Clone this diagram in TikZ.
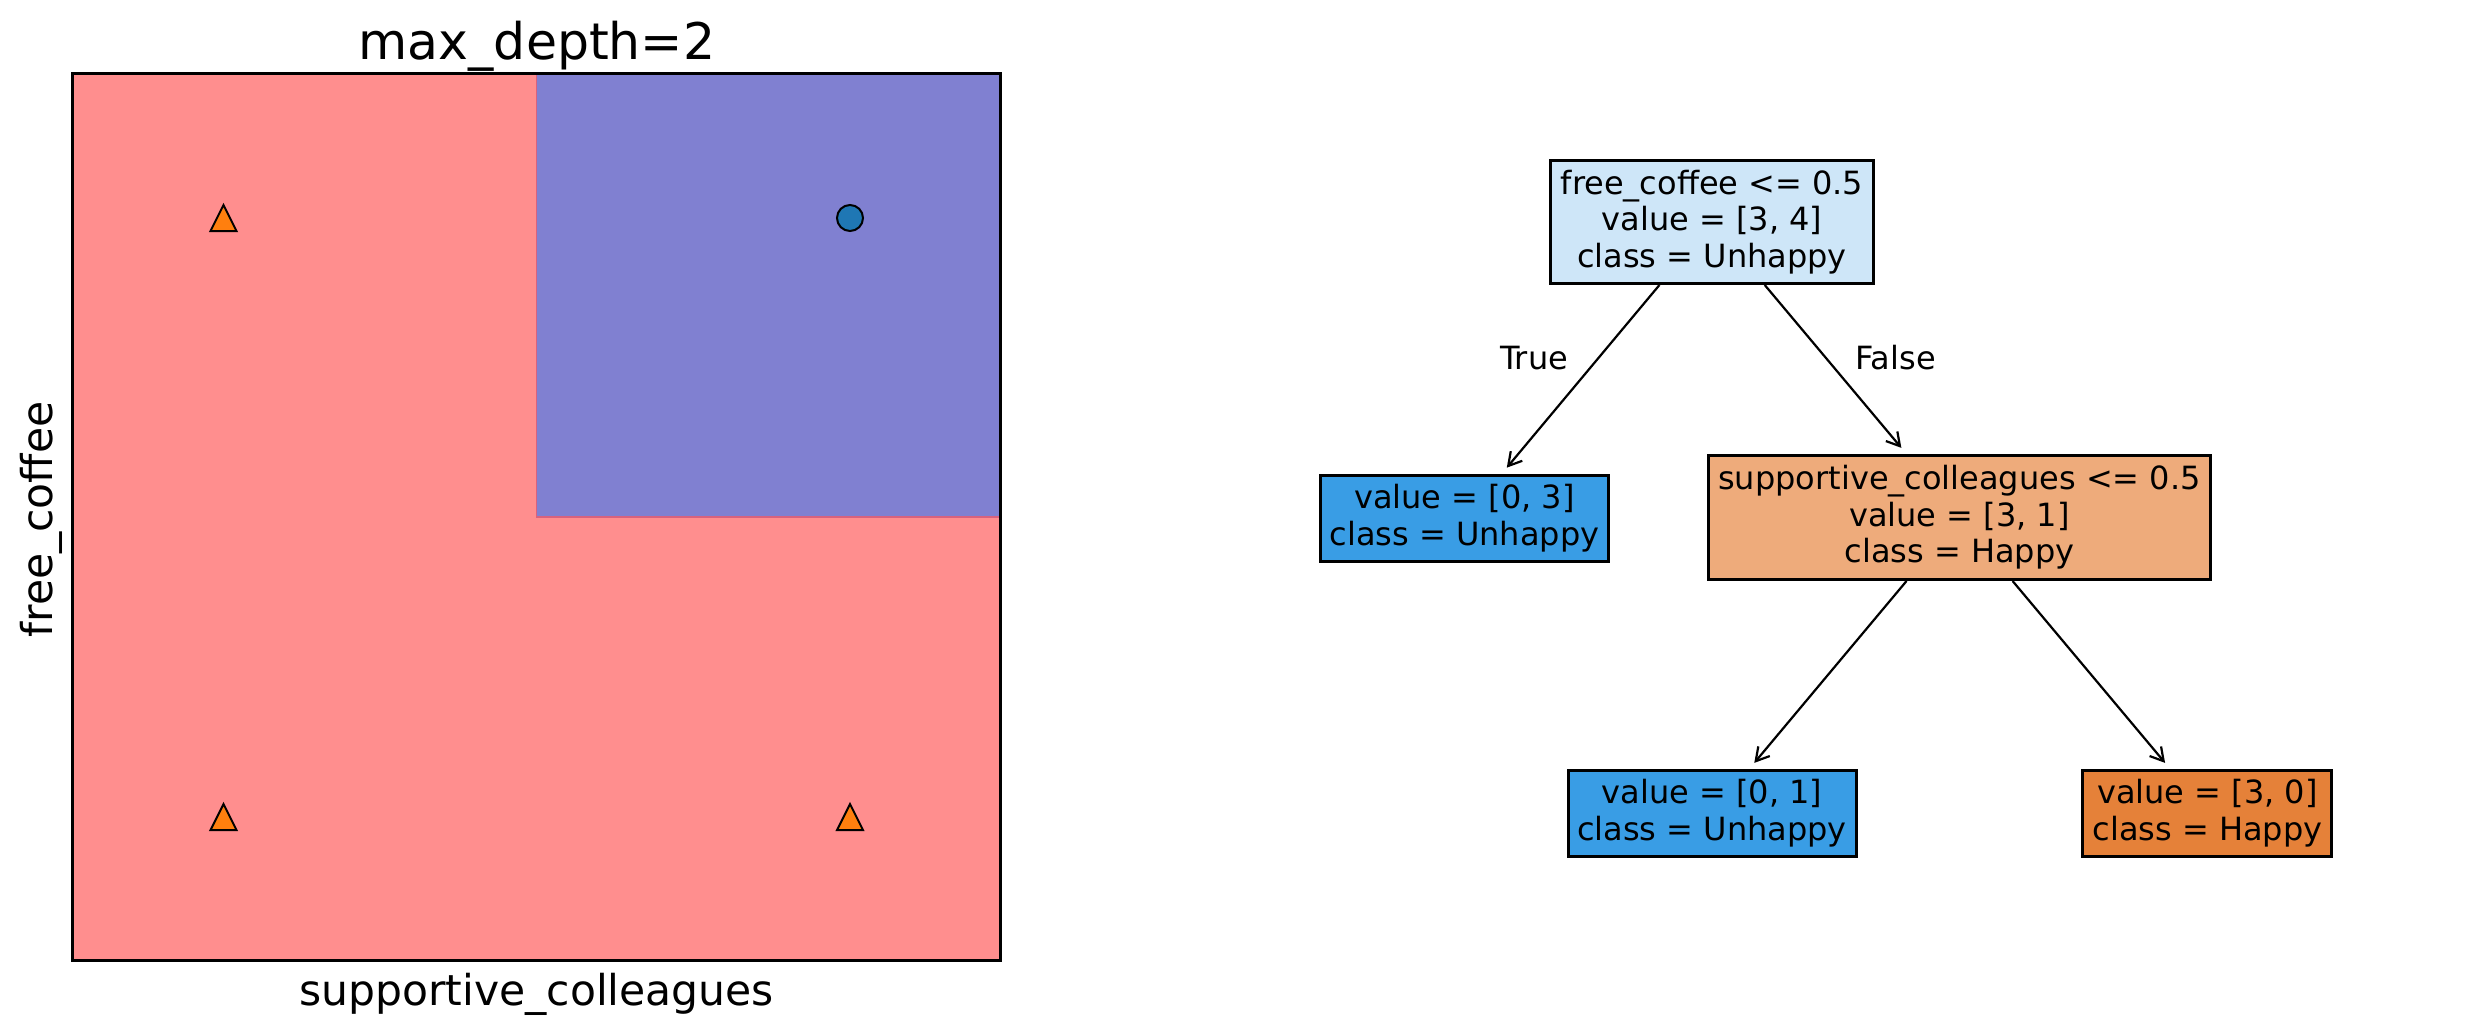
\documentclass[tikz,border=0pt]{standalone}
\usepackage{fontspec}
\setmainfont{DejaVu Sans}
\usetikzlibrary{arrows.meta}
\definecolor{regred}{HTML}{FF8E8E}
\definecolor{regblue}{HTML}{8080D1}
\definecolor{regedge}{HTML}{D8627E}
\definecolor{mkorange}{HTML}{FF7F0E}
\definecolor{mkblue}{HTML}{1F77B4}
\definecolor{leafblue}{HTML}{399DE5}
\definecolor{leaforange}{HTML}{E58139}
\definecolor{rootblue}{HTML}{CEE6F8}
\definecolor{midorange}{HTML}{EEAB7B}
\newcommand\mytitlefont{\fontsize{50.5}{60}\selectfont}
\newcommand\mylabelfont{\fontsize{42.5}{51}\selectfont}
\newcommand\mytreefont{\fontsize{32}{36.5}\selectfont}
\newcommand\mystrut{\rule[-9.75pt]{0pt}{36.5pt}}
\begin{document}
\begin{tikzpicture}[x=1pt,y=-1pt,
  treebox/.style={draw=black, line width=3pt, inner sep=0pt, align=center, font=\mytreefont},
  edgearrow/.style={line width=2.2pt, -{Straight Barb[length=13pt,width=15pt]}, shorten >=8pt},
  edgelabel/.style={font=\mytreefont, anchor=base, inner sep=0pt},
  markeredge/.style={draw=black, line width=2pt, line join=miter},
  axislabel/.style={font=\mylabelfont, anchor=base, inner sep=0pt}]
\useasboundingbox (0,0) rectangle (2472,1034);
% ---------- left panel: decision regions ----------
\fill[regred] (72.7,73.3) rectangle (1000.5,960.7);
\filldraw[fill=regblue, draw=regedge, line width=1.2pt] (536.6,73.3) rectangle (1000.5,517);
\draw[line width=2.5pt] (72.7,73.3) rectangle (1000.5,960.7);
% markers
\filldraw[markeredge, fill=mkorange, shift={(223.5,218)}] (0,-13) -- (-13,13) -- (13,13) -- cycle;
\filldraw[markeredge, fill=mkorange, shift={(223.5,817)}] (0,-13) -- (-13,13) -- (13,13) -- cycle;
\filldraw[markeredge, fill=mkorange, shift={(850,817)}] (0,-13) -- (-13,13) -- (13,13) -- cycle;
\filldraw[markeredge, fill=mkblue] (850,218) circle[radius=13];
% texts
\node[font=\mytitlefont, anchor=base, inner sep=0pt] (title) at (537,59.3) {max\_depth=2};
\node[axislabel] (xlab) at (536.6,1005.7) {supportive\_colleagues};
\node[axislabel, rotate=90] (ylab) at (52.5,519.5) {free\_coffee};
% ---------- right panel: tree ----------
\node[treebox, fill=rootblue, minimum width=323pt, minimum height=123pt] (root) at (1712,222)
  {\mystrut free\_coffee <= 0.5\\\mystrut value = [3, 4]\\\mystrut class = Unhappy};
\node[treebox, fill=leafblue, minimum width=288pt, minimum height=86pt] (leafA) at (1464.5,518.3)
  {\mystrut value = [0, 3]\\\mystrut class = Unhappy};
\node[treebox, fill=midorange, minimum width=502pt, minimum height=124pt] (mid) at (1959.5,517.5)
  {\mystrut supportive\_colleagues <= 0.5\\\mystrut value = [3, 1]\\\mystrut class = Happy};
\node[treebox, fill=leafblue, minimum width=288pt, minimum height=86pt] (leafB) at (1712,813.5)
  {\mystrut value = [0, 1]\\\mystrut class = Unhappy};
\node[treebox, fill=leaforange, minimum width=249pt, minimum height=86pt] (leafC) at (2207.4,813.5)
  {\mystrut value = [3, 0]\\\mystrut class = Happy};
\draw[edgearrow] (root) -- (leafA);
\draw[edgearrow] (root) -- (mid);
\draw[edgearrow] (mid) -- (leafB);
\draw[edgearrow] (mid) -- (leafC);
\node[edgelabel] (truelab) at (1534,369.3) {True};
\node[edgelabel] (falselab) at (1895.6,369.3) {False};
\end{tikzpicture}
\end{document}
